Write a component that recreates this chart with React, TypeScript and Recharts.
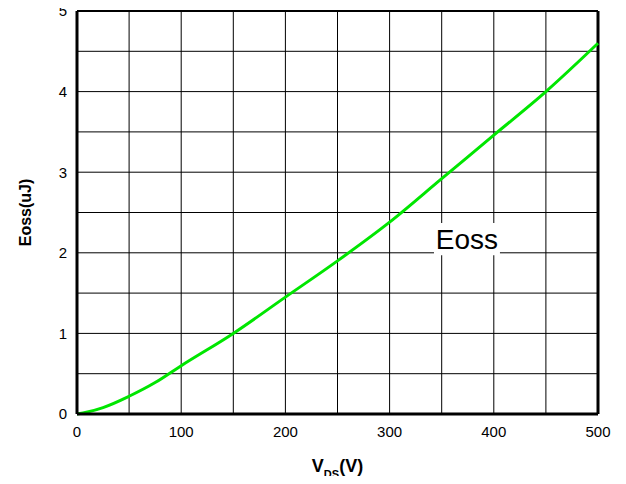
import { LineChart, Line, XAxis, YAxis, CartesianGrid, ReferenceLine, ReferenceArea, Label } from "recharts";

const FONT = "'Liberation Sans', Arial, Helvetica, sans-serif";

// drain-source voltage (V) and output capacitance stored energy (uJ)
const vds = [0, 10, 25, 50, 75, 100, 150, 200, 250, 300, 350, 400, 450, 500];
const eoss = [0, 0.025, 0.08, 0.22, 0.39, 0.6, 1.0, 1.45, 1.9, 2.38, 2.92, 3.46, 4.0, 4.6];

const xTicks = [0, 50, 100, 150, 200, 250, 300, 350, 400, 450, 500];
const yTicks = [0, 0.5, 1, 1.5, 2, 2.5, 3, 3.5, 4, 4.5, 5];

const data = vds.map((v, i) => ({ vds: v, eoss: eoss[i] }));

const xLabel = (v: number) => (v % 100 === 0 ? String(v) : "");
const yLabel = (v: number) => (Number.isInteger(v) ? String(v) : "");

export default function App() {
  return (
    <div style={{ position: "relative", margin: -8, width: 626, height: 484 }}>
      <LineChart width={626} height={484} data={data} margin={{ top: 11, right: 28, left: 0, bottom: 0 }}>
        <CartesianGrid stroke="#000" strokeWidth={1} />
        <XAxis
          dataKey="vds"
          type="number"
          domain={[0, 500]}
          ticks={xTicks}
          tickFormatter={xLabel}
          interval={0}
          height={70}
          tickLine={false}
          tickSize={0}
          tickMargin={12}
          axisLine={{ stroke: "#000", strokeWidth: 3 }}
          tick={{ fill: "#000", fontSize: 15, fontFamily: FONT }}
        >
          <Label
            content={({ viewBox }: any) => (
              <text
                x={viewBox.x + viewBox.width / 2}
                y={viewBox.y + 58}
                textAnchor="middle"
                fontFamily={FONT}
                fontWeight="bold"
                fontSize={18}
                fill="#000"
              >
                <tspan>V</tspan>
                <tspan fontSize={11} dy={6}>DS</tspan>
                <tspan dy={-6}>(V)</tspan>
              </text>
            )}
          />
        </XAxis>
        <YAxis
          type="number"
          domain={[0, 5]}
          ticks={yTicks}
          tickFormatter={yLabel}
          interval={0}
          width={77}
          tickLine={false}
          tickSize={0}
          tickMargin={10}
          axisLine={{ stroke: "#000", strokeWidth: 3 }}
          tick={{ fill: "#000", fontSize: 15, fontFamily: FONT }}
        >
          <Label
            content={({ viewBox }: any) => {
              const cx = viewBox.x + 25;
              const cy = viewBox.y + viewBox.height / 2;
              return (
                <text
                  x={cx}
                  y={cy}
                  transform={`rotate(-90 ${cx} ${cy})`}
                  textAnchor="middle"
                  dominantBaseline="central"
                  fontFamily={FONT}
                  fontWeight="bold"
                  fontSize={16}
                  fill="#000"
                >
                  Eoss(uJ)
                </text>
              );
            }}
          />
        </YAxis>
        <ReferenceLine y={5} stroke="#000" strokeWidth={2} />
        <ReferenceLine x={500} stroke="#000" strokeWidth={3} />
        <ReferenceArea
          x1={342.6}
          x2={405.9}
          y1={1.97}
          y2={2.37}
          fill="#fff"
          fillOpacity={1}
          stroke="none"
          label={{ value: "Eoss", position: "center", fontSize: 28, fontFamily: FONT, fill: "#000" }}
        />
        <Line
          type="monotone"
          dataKey="eoss"
          stroke="#00e600"
          strokeWidth={3}
          dot={false}
          isAnimationActive={false}
        />
      </LineChart>
    </div>
  );
}
